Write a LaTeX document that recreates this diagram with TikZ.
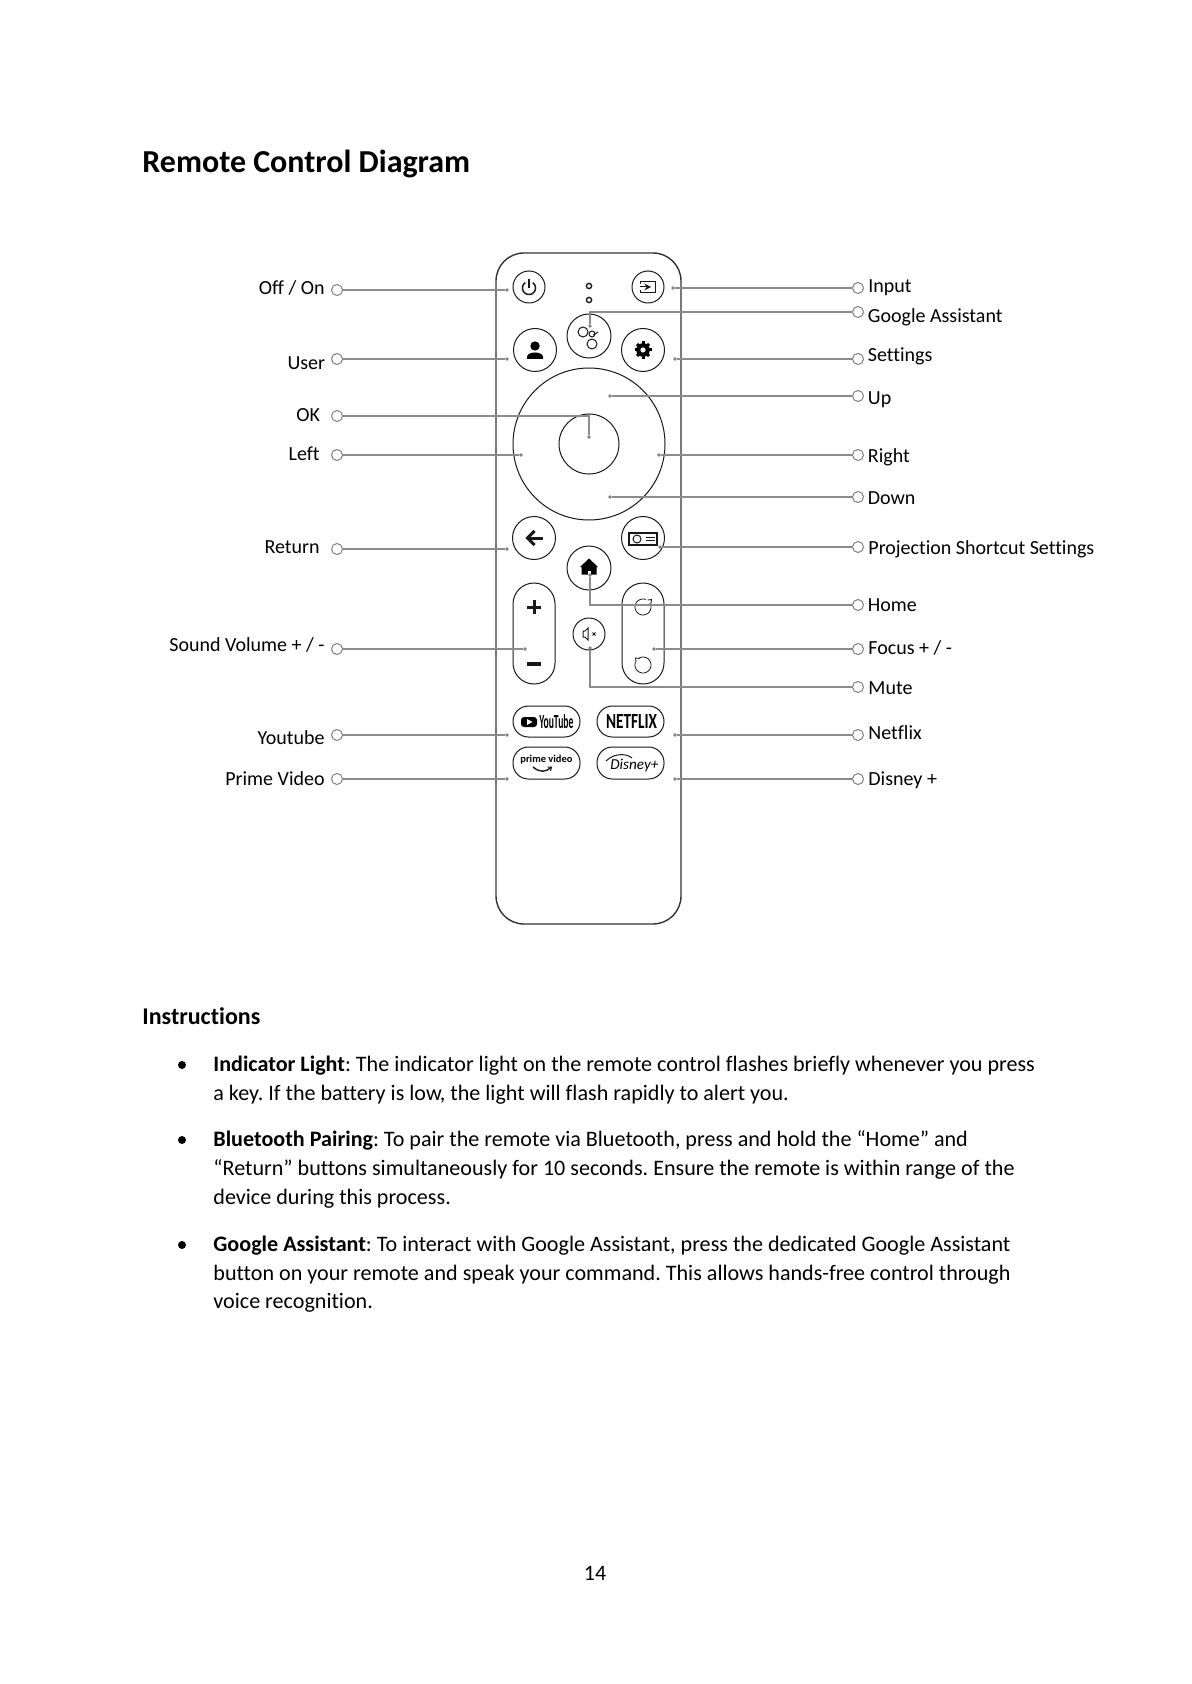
\documentclass[tikz,border=0pt]{standalone}
\usepackage{fontspec}
\setmainfont[Ligatures=CommonOff]{Carlito}
\begin{document}
\frenchspacing
\begin{tikzpicture}[x=0.5pt,y=-0.5pt,>=stealth,
	lead/.style={draw=black!45,line width=0.55pt},
	ring/.style={circle,draw=black!50,line width=0.5pt,fill=white,minimum size=5.5pt,inner sep=0pt},
	pin/.style={circle,fill=black!50,minimum size=1.8pt,inner sep=0pt},
	btn/.style={circle,draw=black!90,line width=0.5pt,inner sep=0pt},
	pill/.style={rectangle,draw=black!90,line width=0.5pt,inner sep=0pt},
	lbl/.style={anchor=base east,inner sep=0pt,font=\fontsize{10}{12}\selectfont},
	rbl/.style={anchor=base west,inner sep=0pt,font=\fontsize{10}{12}\selectfont},
	txt/.style={anchor=base west,inner sep=0pt,font=\fontsize{11.05}{13}\selectfont},
	icon/.style={line width=0.5pt,black!90}]
	\useasboundingbox (0,0) rectangle (1191,1684);
	\fill[white] (0,0) rectangle (1191,1684);

	\node[anchor=base west,inner sep=0pt,font=\fontsize{16}{19}\selectfont\bfseries] (title) at (142,173) {Remote Control Diagram};

	\node[pill,draw=black!80,line width=0.7pt,minimum width=92.5pt,minimum height=335.5pt,rounded corners=14pt] (body) at (588.5,588.5) {};

	\node[btn,minimum size=16pt] (bPower) at (529,287) {};
	\node[btn,minimum size=16pt] (bInput) at (648,287) {};
	\node[btn,minimum size=22pt] (bGoogle) at (589,336) {};
	\node[btn,minimum size=21.5pt] (bUser) at (535,350) {};
	\node[btn,minimum size=21.5pt] (bGear) at (643,350) {};
	\node[btn,minimum size=76pt] (bPad) at (589,444) {};
	\node[btn,minimum size=30pt] (bOk) at (589,444) {};
	\node[btn,minimum size=21.5pt] (bReturn) at (534,538) {};
	\node[btn,minimum size=21.5pt] (bProj) at (643,538) {};
	\node[btn,minimum size=22pt] (bHome) at (589,568) {};
	\node[btn,minimum size=16pt] (bMute) at (589,634) {};
	\node[pill,minimum width=21pt,minimum height=50.5pt,rounded corners=10.5pt] (bVol) at (534,633.5) {};
	\node[pill,minimum width=21pt,minimum height=50.5pt,rounded corners=10.5pt] (bFocus) at (643,633.5) {};
	\node[pill,minimum width=33.5pt,minimum height=15.5pt,rounded corners=7.7pt] (bYou) at (546.5,721.5) {};
	\node[pill,minimum width=33.5pt,minimum height=15.5pt,rounded corners=7.7pt] (bNet) at (630.5,721.5) {};
	\node[pill,minimum width=33.5pt,minimum height=16pt,rounded corners=7.7pt] (bPrime) at (546.5,763) {};
	\node[pill,minimum width=33.5pt,minimum height=16pt,rounded corners=7.7pt] (bDisney) at (630.5,763) {};

	\draw[icon,line width=0.7pt] (589,286) circle (2.6);
	\draw[icon,line width=0.7pt] (589,300) circle (2.6);

	\draw[icon,line width=0.75pt] plot[domain=125:415,samples=30] ({529+6.5*cos(\x)},{288-6.5*sin(\x)});
	\draw[icon,line width=0.75pt] (529,279) -- (529,288);

	\draw[icon] (640,284) -- (640,281.5) -- (655,281.5) -- (655,293) -- (640,293) -- (640,290.5);
	\draw[icon,->] (640,287) -- (651,287);

	\draw[icon] (583,332) circle (5);
	\draw[icon] (592,344) circle (5);
	\draw[icon] (592,334) circle (3);
	\draw[icon] (593,335) -- (598,332);

	\fill[black] (535,346) circle (4.7);
	\fill[black] (527,359) -- (527,357) .. controls (527,351) and (543,351) .. (543,357) -- (543,359) -- cycle;

	\fill[black] (643,350) circle (6.8);
	\draw[black,line width=1.5pt] (643,341) -- (643,359);
	\draw[black,line width=1.5pt] (634.5,350) -- (651.5,350);
	\draw[black,line width=1.5pt] (637,344) -- (649,356);
	\draw[black,line width=1.5pt] (649,344) -- (637,356);
	\fill[white] (643,350) circle (2.6);

	\draw[icon,line width=1.5pt] (543,538) -- (528,538);
	\draw[icon,line width=1.5pt] (534.5,531) -- (527.5,538) -- (534.5,545);

	\draw[icon,line width=0.6pt] (629,533) rectangle (657,545);
	\draw[icon] (637,539) circle (4);
	\draw[icon] (646,537.5) -- (655,537.5);
	\draw[icon] (646,540.5) -- (655,540.5);

	\fill[black] (589,558.5) -- (598,567) -- (596.5,567) -- (596.5,574.5) -- (581.5,574.5) -- (581.5,567) -- (580,567) -- cycle;
	\fill[white] (587.5,570.5) rectangle (590.5,574.5);

	\draw[icon,line width=1.5pt] (527,607) -- (541,607);
	\draw[icon,line width=1.5pt] (534,600) -- (534,614);
	\draw[icon,line width=1.6pt] (527,664) -- (541,664);

	\draw[icon,line width=0.4pt] plot[domain=70:390,samples=30] ({643+8*cos(\x)},{607-8*sin(\x)});
	\draw[icon,line width=0.4pt] (647.5,600) -- (651.5,599.5) -- (651,603.5);
	\draw[icon,line width=0.4pt] plot[domain=160:480,samples=30] ({643+8*cos(\x)},{665-8*sin(\x)});
	\draw[icon,line width=0.4pt] (639.5,658.5) -- (635.5,658) -- (636,662);

	\draw[icon] (583,631) -- (585,631) -- (588,628) -- (588,640) -- (585,637) -- (583,637) -- cycle;
	\draw[icon] (592.5,632.5) -- (595.5,635.5);
	\draw[icon] (595.5,632.5) -- (592.5,635.5);

	\fill[black,rounded corners=1.5pt] (521,717) rectangle (537,727);
	\fill[white] (527,719) -- (532.5,722) -- (527,725) -- cycle;
	\node[inner sep=0pt,anchor=west] (tYou) at (539,722) {\resizebox{17pt}{7pt}{\bfseries YouTube}};
	\node[inner sep=0pt] (tNet) at (631.5,721.5) {\resizebox{25.5pt}{7pt}{\bfseries NETFLIX}};
	\node[inner sep=0pt,anchor=base west] (tPrime) at (520,762) {\resizebox{26pt}{!}{\bfseries prime video}};
	\draw[icon,line width=0.7pt] (533,767) .. controls (540,773) and (546,772) .. (551,767.5);
	\draw[icon,line width=0.5pt] (547.5,767) -- (551.5,767) -- (550.5,771);
	\node[inner sep=0pt,anchor=base west] (tDisney) at (610,769) {\resizebox{24pt}{!}{\itshape Disney+}};
	\draw[icon] (606,761) .. controls (615,752) and (628,754) .. (632,758);

	\node[ring] (cOff) at (337,290) {};
	\node[pin] (dOff) at (507,290) {};
	\draw[lead] (cOff) -- (dOff);
	\node[lbl] (lOff) at (325,295) {Off / On};

	\node[ring] (cUser) at (337,359) {};
	\node[pin] (dUser) at (507,359) {};
	\draw[lead] (cUser) -- (dUser);
	\node[lbl] (lUser) at (325.5,370) {User};

	\node[ring] (cOk) at (337,416) {};
	\node[pin] (dOk) at (589,437) {};
	\draw[lead] (cOk) -| (dOk);
	\node[lbl] (lOk) at (320.5,422) {OK};

	\node[ring] (cLeft) at (337,455) {};
	\node[pin] (dLeft) at (521,455) {};
	\draw[lead] (cLeft) -- (dLeft);
	\node[lbl] (lLeft) at (320,460) {Left};

	\node[ring] (cReturn) at (337,549) {};
	\node[pin] (dReturn) at (507,549) {};
	\draw[lead] (cReturn) -- (dReturn);
	\node[lbl] (lReturn) at (320,553.5) {Return};

	\node[ring] (cSound) at (337,649) {};
	\node[pin] (dSound) at (525,649) {};
	\draw[lead] (cSound) -- (dSound);
	\node[lbl] (lSound) at (325,651) {Sound Volume + / -};

	\node[ring] (cYou) at (337,735) {};
	\node[pin] (dYou) at (507,735) {};
	\draw[lead] (cYou) -- (dYou);
	\node[lbl] (lYou) at (325,744) {Youtube};

	\node[ring] (cPrime) at (337,779) {};
	\node[pin] (dPrime) at (507,779) {};
	\draw[lead] (cPrime) -- (dPrime);
	\node[lbl] (lPrime) at (325,785) {Prime Video};

	\node[ring] (cInput) at (858,288) {};
	\node[pin] (dInput) at (673,288) {};
	\draw[lead] (cInput) -- (dInput);
	\node[rbl] (lInput) at (868,293) {Input};

	\node[ring] (cGoogle) at (858,312) {};
	\node[pin] (dGoogle) at (590,326) {};
	\draw[lead] (cGoogle) -| (dGoogle);
	\node[rbl] (lGoogle) at (867.5,323) {Google Assistant};

	\node[ring] (cGear) at (858,359) {};
	\node[pin] (dGear) at (675,359) {};
	\draw[lead] (cGear) -- (dGear);
	\node[rbl] (lGear) at (867.5,362) {Settings};

	\node[ring] (cUp) at (858,396) {};
	\node[pin] (dUp) at (610,396) {};
	\draw[lead] (cUp) -- (dUp);
	\node[rbl] (lUp) at (867.5,405) {Up};

	\node[ring] (cRight) at (858,455) {};
	\node[pin] (dRight) at (659,455) {};
	\draw[lead] (cRight) -- (dRight);
	\node[rbl] (lRight) at (867.5,462) {Right};

	\node[ring] (cDown) at (858,497) {};
	\node[pin] (dDown) at (610,497) {};
	\draw[lead] (cDown) -- (dDown);
	\node[rbl] (lDown) at (867.5,504) {Down};

	\node[ring] (cProj) at (858,547) {};
	\node[pin] (dProj) at (660,547) {};
	\draw[lead] (cProj) -- (dProj);
	\node[rbl] (lProj) at (868,554) {Projection Shortcut Settings};

	\node[ring] (cHome) at (858,605) {};
	\node[pin] (dHome) at (590,575) {};
	\draw[lead] (cHome) -| (dHome);
	\node[rbl] (lHome) at (867.5,611) {Home};

	\node[ring] (cFocus) at (858,649) {};
	\node[pin] (dFocus) at (654,649) {};
	\draw[lead] (cFocus) -- (dFocus);
	\node[rbl] (lFocus) at (868,654) {Focus + / -};

	\node[ring] (cMute) at (858,687) {};
	\node[pin] (dMute) at (590,648) {};
	\draw[lead] (cMute) -| (dMute);
	\node[rbl] (lMute) at (868,694) {Mute};

	\node[ring] (cNet) at (858,735) {};
	\node[pin] (dNet) at (675,735) {};
	\draw[lead] (cNet) -- (dNet);
	\node[rbl] (lNet) at (868,739) {Netflix};

	\node[ring] (cDisney) at (858,779) {};
	\node[pin] (dDisney) at (675,779) {};
	\draw[lead] (cDisney) -- (dDisney);
	\node[rbl] (lDisney) at (868,785) {Disney +};

	\node[txt,font=\fontsize{12}{14}\selectfont\bfseries] (inst) at (142,1024) {Instructions};

	\fill[black] (182,1065) circle (4);
	\node[txt] (a1) at (213,1071) {\textbf{Indicator Light}: The indicator light on the remote control flashes briefly whenever you press};
	\node[txt] (a2) at (213,1100) {a key. If the battery is low, the light will flash rapidly to alert you.};

	\fill[black] (182,1140) circle (4);
	\node[txt] (b1) at (213,1146) {\textbf{Bluetooth Pairing}: To pair the remote via Bluetooth, press and hold the “Home” and};
	\node[txt] (b2) at (213,1175) {“Return” buttons simultaneously for 10 seconds. Ensure the remote is within range of the};
	\node[txt] (b3) at (213,1204) {device during this process.};

	\fill[black] (182,1245) circle (4);
	\node[txt] (c1) at (213,1251) {\textbf{Google Assistant}: To interact with Google Assistant, press the dedicated Google Assistant};
	\node[txt] (c2) at (213,1280) {button on your remote and speak your command. This allows hands-free control through};
	\node[txt] (c3) at (213,1308) {voice recognition.};

	\node[inner sep=0pt,font=\fontsize{11}{13}\selectfont] (page) at (595,1573) {14};
\end{tikzpicture}
\end{document}
